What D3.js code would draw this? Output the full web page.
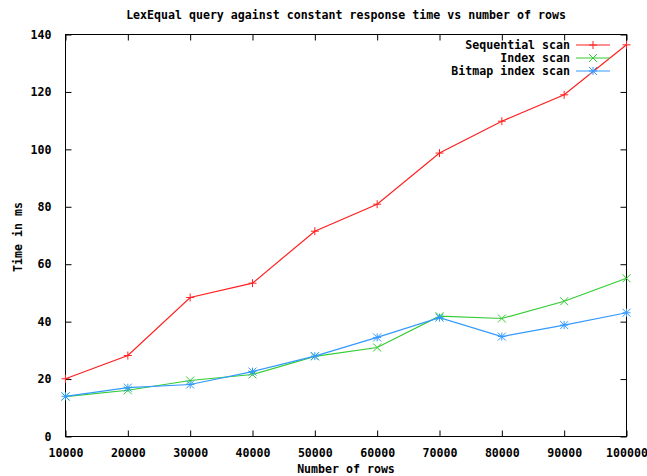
<!DOCTYPE html>
<html>
<head>
<meta charset="utf-8">
<script src="https://cdn.jsdelivr.net/npm/d3@7"></script>
<style>
  html, body { margin: 0; padding: 0; background: #fff; }
  svg text { font-family: "DejaVu Sans Mono", monospace; font-weight: bold; font-size: 11.6px; fill: #000; }
</style>
</head>
<body>
<svg id="chart" width="647" height="476"></svg>
<script>
// Rows in the table
const rows = [10000, 20000, 30000, 40000, 50000, 60000, 70000, 80000, 90000, 100000];
// Query time (ms) per access method
const sequentialScan = [20.1, 28.2, 48.4, 53.4, 71.5, 80.9, 98.7, 109.8, 119.0, 136.4];
const indexScan      = [13.9, 16.1, 19.5, 21.6, 27.9, 31.0, 41.9, 41.1, 47.1, 55.1];
const bitmapScan     = [14.0, 17.0, 18.1, 22.6, 28.0, 34.5, 41.4, 34.8, 38.8, 43.1];
const seriesNames = ["Sequential scan", "Index scan", "Bitmap index scan"];
const yTicks = [0, 20, 40, 60, 80, 100, 120, 140];

const series = [
  { name: seriesNames[0], values: sequentialScan, color: "#ff2020", marker: "plus" },
  { name: seriesNames[1], values: indexScan,      color: "#33cc33", marker: "cross" },
  { name: seriesNames[2], values: bitmapScan,     color: "#3399ff", marker: "star" }
];

const svg = d3.select("#chart");
const m = { left: 65.5, right: 626.5, top: 34.5, bottom: 436.5 };

const x = d3.scaleLinear().domain([10000, 100000]).range([m.left, m.right]);
const y = d3.scaleLinear().domain([0, 140]).range([m.bottom, m.top]);

// Title
svg.append("text").attr("x", 346).attr("y", 19).attr("text-anchor", "middle")
  .text("LexEqual query against constant response time vs number of rows");

// Axes: labels outside, ticks pointing inwards
const tickLen = 6;
svg.append("g").attr("transform", `translate(0,${m.bottom})`)
  .call(d3.axisBottom(x).tickValues(rows).tickFormat(d3.format("d")).tickSizeInner(-tickLen).tickSizeOuter(0).tickPadding(12));
svg.append("g").attr("transform", `translate(${m.left},0)`)
  .call(d3.axisLeft(y).tickValues(yTicks).tickSizeInner(-tickLen).tickSizeOuter(0).tickPadding(14));
// Mirrored ticks on top and right
svg.append("g").attr("transform", `translate(0,${m.top})`)
  .call(d3.axisTop(x).tickValues(rows).tickFormat("").tickSizeInner(-tickLen).tickSizeOuter(0));
svg.append("g").attr("transform", `translate(${m.right},0)`)
  .call(d3.axisRight(y).tickValues(yTicks).tickFormat("").tickSizeInner(-tickLen).tickSizeOuter(0));
svg.selectAll(".domain").remove();
svg.selectAll(".tick line").attr("stroke", "#000");
svg.selectAll(".tick text").attr("font-size", null).attr("font-family", null).attr("fill", "#000");

// Plot border
svg.append("rect").attr("x", m.left).attr("y", m.top).attr("width", m.right - m.left).attr("height", m.bottom - m.top)
  .attr("fill", "none").attr("stroke", "#000").attr("stroke-width", 1);

// Axis titles
svg.append("text").attr("x", 346).attr("y", 473).attr("text-anchor", "middle").text("Number of rows");
svg.append("text").attr("transform", "translate(22,237) rotate(-90)").attr("text-anchor", "middle").text("Time in ms");

function drawMarker(g, cx, cy, kind, color) {
  const s = 4;
  const p = d3.path();
  if (kind === "plus" || kind === "star") {
    p.moveTo(cx - s, cy); p.lineTo(cx + s, cy);
    p.moveTo(cx, cy - s); p.lineTo(cx, cy + s);
  }
  if (kind === "cross" || kind === "star") {
    p.moveTo(cx - s, cy - s); p.lineTo(cx + s, cy + s);
    p.moveTo(cx - s, cy + s); p.lineTo(cx + s, cy - s);
  }
  g.append("path").attr("d", p.toString()).attr("stroke", color).attr("stroke-width", 1).attr("fill", "none");
}

const line = d3.line().x((d, i) => x(rows[i])).y(d => y(d));
const plot = svg.append("g");
series.forEach(s => {
  plot.append("path").datum(s.values).attr("d", line)
    .attr("fill", "none").attr("stroke", s.color).attr("stroke-width", 1.2);
  const mg = plot.append("g");
  s.values.forEach((v, i) => drawMarker(mg, x(rows[i]), y(v), s.marker, s.color));
});

// Legend
const legend = svg.append("g");
series.forEach((s, i) => {
  const ly = 45 + i * 13;
  legend.append("text").attr("x", 570).attr("y", ly + 4).attr("text-anchor", "end").text(s.name);
  legend.append("line").attr("x1", 576).attr("x2", 610).attr("y1", ly).attr("y2", ly)
    .attr("stroke", s.color).attr("stroke-width", 1.2);
  drawMarker(legend, 593, ly, s.marker, s.color);
});
</script>
</body>
</html>
